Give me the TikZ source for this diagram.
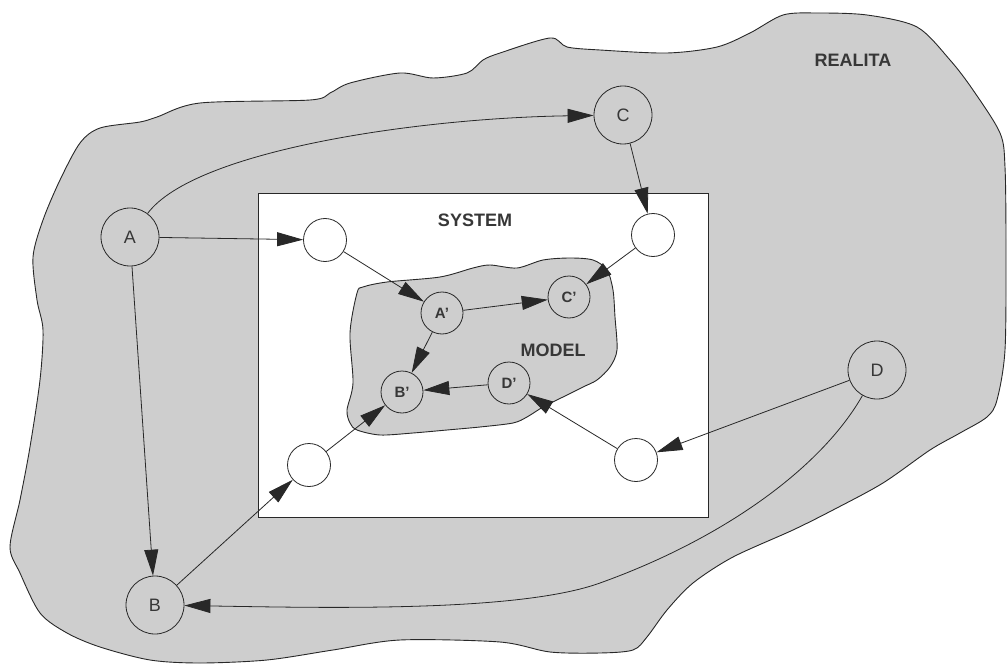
\documentclass[tikz,border=0pt]{standalone}
\usepackage{fontspec}
\setmainfont{Liberation Sans}
\usetikzlibrary{arrows.meta}
\definecolor{shade}{RGB}{206,206,206}
\definecolor{ink}{RGB}{40,40,40}
\definecolor{txt}{RGB}{55,55,55}

\begin{document}
\begin{tikzpicture}[x=1pt,y=-1pt,
  outline/.style={draw=ink, line width=0.9pt},
  region/.style={outline, fill=shade},
  bignode/.style={circle, draw=ink, line width=0.8pt, minimum size=58pt, inner sep=0pt,
    font=\fontsize{18}{18}\selectfont, text=txt},
  portnode/.style={circle, draw=ink, fill=white, line width=0.8pt, minimum size=43pt, inner sep=0pt},
  modnode/.style={circle, draw=ink, line width=0.8pt, minimum size=42pt, inner sep=0pt,
    font=\bfseries\fontsize{15}{15}\selectfont, text=txt},
  tag/.style={font=\bfseries\fontsize{18}{18}\selectfont, text=txt},
  link/.style={draw=ink, line width=0.8pt, -{Triangle[length=26pt,width=14pt]}},
]
\useasboundingbox (0,0) rectangle (1007,666);

% REALITA
\draw[region] plot[smooth cycle, tension=0.5] coordinates {
  (60,180) (80,143) (100,128) (140,122) (157,117) (200,103) (310,100) (330,93)
  (350,83) (400,73) (433,78) (467,73) (483,60) (500,53) (550,38) (567,47)
  (600,50) (667,53) (717,47) (750,33) (783,15) (817,13) (867,15) (917,27)
  (950,60) (973,90) (1000,133) (1005,167) (1006,250) (1005,350) (997,400)
  (987,417) (960,433) (930,450) (883,483) (833,510) (793,530) (733,557)
  (693,583) (667,610) (647,637) (633,650) (600,653) (550,652) (500,642)
  (400,640) (333,650) (267,660) (200,663) (150,660) (100,647) (67,633)
  (40,613) (20,573) (10,547) (20,500) (30,447) (40,380) (43,330) (37,300)
  (33,257) (43,220)};

% SYSTEM
\draw[outline, fill=white] (258,193) rectangle (708,517);

% MODEL
\draw[region] plot[smooth cycle, tension=0.5] coordinates {
  (363,287) (387,282) (440,277) (473,268) (490,265) (517,268) (543,260)
  (570,258) (593,260) (607,270) (613,290) (615,317) (617,350) (610,367)
  (597,380) (583,387) (563,397) (543,407) (527,417) (513,423) (480,427)
  (447,430) (413,433) (380,435) (357,430) (350,423) (347,410) (353,383)
  (350,333) (357,293)};

\node[tag] (realita) at (853,60) {REALITA};
\node[tag] (system) at (475,220) {SYSTEM};
\node[tag] (model) at (553,350) {MODEL};

% objects of reality
\node[bignode] (A) at (130,237) {A};
\node[bignode] (B) at (155,605) {B};
\node[bignode] (C) at (623,115) {C};
\node[bignode] (D) at (877,370) {D};

% system ports
\node[portnode] (W1) at (325,240) {};
\node[portnode] (W2) at (653,235) {};
\node[portnode] (W3) at (309,465) {};
\node[portnode] (W4) at (636,460) {};

% model objects
\node[modnode] (Am) at (442,313) {A'};
\node[modnode] (Cm) at (569,297) {C'};
\node[modnode] (Bm) at (402,392) {B'};
\node[modnode] (Dm) at (509,383) {D'};

% connectors
\draw[link] (A) .. controls (195,150) and (420,118) .. (C);
\draw[link] (A) -- (W1);
\draw[link] (A) -- (B);
\draw[link] (C) -- (W2);
\draw[link] (W1) -- (Am);
\draw[link] (W2) -- (Cm);
\draw[link] (Am) -- (Cm);
\draw[link] (Am) -- (Bm);
\draw[link] (Dm) -- (Bm);
\draw[link] (W4) -- (Dm);
\draw[link] (D) -- (W4);
\draw[link] (B) -- (W3);
\draw[link] (W3) -- (Bm);
\draw[link] (D) .. controls (820,470) and (720,540) .. (600,583)
  .. controls (520,612) and (330,608) .. (B);
\end{tikzpicture}
\end{document}
